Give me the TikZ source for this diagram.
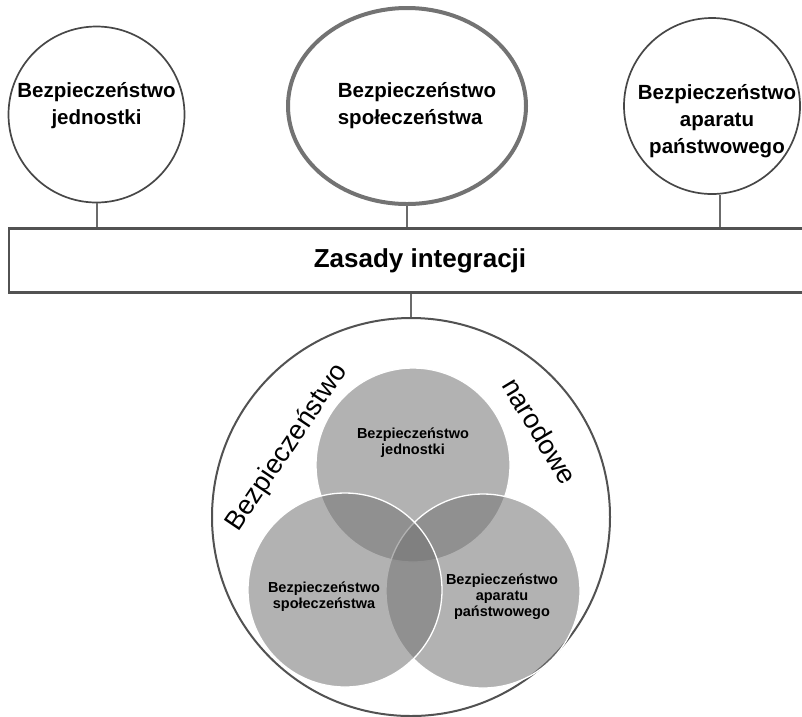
\documentclass[tikz,border=0pt]{standalone}
\usepackage{fontspec}
\setmainfont{Liberation Sans}
\usepackage{tikz}
\usetikzlibrary{shapes.geometric,calc}

\begin{document}
\begin{tikzpicture}[x=1pt,y=-1pt,
  ring/.style={circle,draw=black!72,line width=1.7pt,minimum size=176pt,inner sep=0pt},
  hub/.style={ellipse,draw=black!55,line width=4pt,minimum width=238pt,minimum height=196pt,inner sep=0pt},
  lbl/.style={font=\fontsize{20.5}{27}\selectfont\bfseries,align=center},
  link/.style={draw=black!58,line width=2pt},
  venn/.style={circle,minimum size=194pt,inner sep=0pt,fill=black!55,fill opacity=0.55,draw=white,line width=1.3pt},
  small/.style={font=\fontsize{14.5}{16}\selectfont\bfseries,align=center},
  arcl/.style={font=\fontsize{27}{27}\selectfont}]

 \clip (0,0) rectangle (802,716);

 % the three pillars
 \node[ring] (ind) at (96.5,114.5) {};
 \node[hub]  (soc) at (407,106) {};
 \node[ring] (app) at (712,106) {};
 \node[lbl] at (96.5,106) {Bezpieczeństwo\\jednostki};
 \node[lbl,align=left] at (417,106) {Bezpieczeństwo\\społeczeństwa};
 \node[lbl] at (717,121) {Bezpieczeństwo\\aparatu\\państwowego};

 % the bar
 \node[draw=black!68,line width=2.5pt,minimum width=822pt,minimum height=64pt,
       font=\fontsize{26}{30}\selectfont\bfseries] (zas) at (420,260.5) {Zasady integracji};

 \node[circle,draw=black!68,line width=2pt,minimum size=398pt] (nat) at (411,517) {};

 \draw[link] (ind.south) -- (ind.south |- zas.north);
 \draw[link] (soc.south) -- (soc.south |- zas.north);
 \draw[link] ([xshift=8pt]app.south) -- ([xshift=8pt]app.south |- zas.north);
 \draw[link] (zas.south -| nat.north) -- (nat.north);

 % venn
 \node[venn] (vj) at (413,465) {};
 \node[venn] (va) at (483,591) {};
 \node[venn] (vs) at (345,590) {};

 \node[small] at (413,443) {Bezpieczeństwo\\jednostki};
 \node[small] at (324,597) {Bezpieczeństwo\\społeczeństwa};
 \node[small] at (502,597) {Bezpieczeństwo\\aparatu\\państwowego};

 \node[arcl,rotate=56]  at (287,448) {Bezpieczeństwo};
 \node[arcl,rotate=-59] at (540,431) {narodowe};

\end{tikzpicture}
\end{document}
